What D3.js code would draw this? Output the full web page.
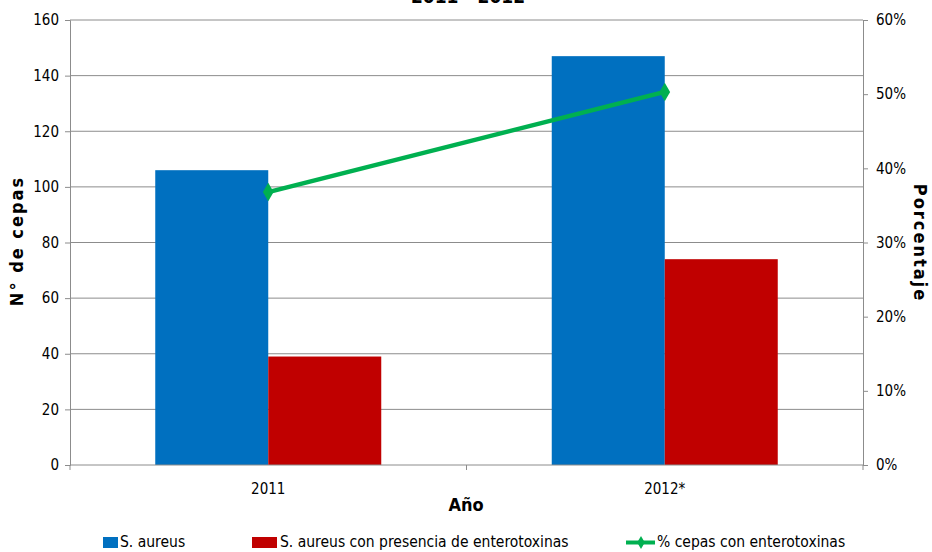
<!DOCTYPE html>
<html>
<head>
<meta charset="utf-8">
<script src="https://cdn.jsdelivr.net/npm/d3@7/dist/d3.min.js"></script>
<style>
body{margin:0;background:#fff;}
svg{display:block;}
text{font-family:Tahoma,"DejaVu Sans Condensed","DejaVu Sans",sans-serif;}
</style>
</head>
<body>
<svg id="c" width="932" height="552"></svg>
<script>
const years = ["2011", "2012*"];
const aureus = [106, 147];
const enterotox = [39, 74];
const pctCepas = [0.368, 0.503];
const leftTicks = [0, 20, 40, 60, 80, 100, 120, 140, 160];
const rightTicks = [0, 0.1, 0.2, 0.3, 0.4, 0.5, 0.6];
const seriesNames = ["S. aureus", "S. aureus con presencia de enterotoxinas", "% cepas con enterotoxinas"];
const colors = ["#0070C0", "#C00000", "#00B050"];

const svg = d3.select("#c");
const L = 70, R = 863, T = 20, B = 465;

const x = d3.scaleBand().domain(years).range([L, R]).paddingInner(0).paddingOuter(0);
const y = d3.scaleLinear().domain([0, 160]).range([B, T]);
const y2 = d3.scaleLinear().domain([0, 0.6]).range([B, T]);
const bw = 113;

// title (cut off at top edge, as in the reference)
svg.append("text").attr("x", 468).attr("y", 3).attr("text-anchor", "middle")
  .attr("font-size", 19).attr("font-weight", "bold").attr("font-family", "'DejaVu Serif',serif")
  .text("2011 - 2012");

// gridlines
svg.append("g").selectAll("line").data(leftTicks.filter(d => d > 0)).join("line")
  .attr("x1", L).attr("x2", R).attr("y1", d => y(d)).attr("y2", d => y(d))
  .attr("stroke", "#8c8c8c").attr("stroke-width", 1);

// bars
const g = svg.append("g");
years.forEach((yr, i) => {
  const cx = x(yr) + x.bandwidth() / 2;
  g.append("rect").attr("x", cx - bw).attr("width", bw)
    .attr("y", y(aureus[i])).attr("height", B - y(aureus[i])).attr("fill", colors[0]);
  g.append("rect").attr("x", cx).attr("width", bw)
    .attr("y", y(enterotox[i])).attr("height", B - y(enterotox[i])).attr("fill", colors[1]);
});

// axes
const axL = svg.append("g").attr("transform", `translate(${L},0)`)
  .call(d3.axisLeft(y).tickValues(leftTicks).tickSize(5).tickPadding(6));
const axR = svg.append("g").attr("transform", `translate(${R},0)`)
  .call(d3.axisRight(y2).tickValues(rightTicks).tickSize(5).tickPadding(8).tickFormat(d3.format(".0%")));
const axB = svg.append("g").attr("transform", `translate(0,${B})`)
  .call(d3.axisBottom(x).tickSize(0).tickPadding(18));
axB.select(".domain").remove();
svg.append("line").attr("x1", L).attr("x2", R).attr("y1", B).attr("y2", B).attr("stroke", "#8c8c8c");
svg.append("g").selectAll("line").data([L, (L + R) / 2, R]).join("line")
  .attr("x1", d => d).attr("x2", d => d).attr("y1", B).attr("y2", B + 5).attr("stroke", "#8c8c8c");

[axL, axR, axB].forEach(a => {
  a.selectAll(".domain").attr("stroke", "#8c8c8c");
  a.selectAll(".tick line").attr("stroke", "#8c8c8c");
  a.selectAll("text").attr("font-size", 15).attr("fill", "#000")
    .attr("font-family", 'Tahoma,"DejaVu Sans Condensed","DejaVu Sans",sans-serif');
});
axB.selectAll(".tick").attr("transform", d => `translate(${x(d) + x.bandwidth() / 2},0)`);

// line series
const pts = years.map((yr, i) => [x(yr) + x.bandwidth() / 2, y2(pctCepas[i])]);
svg.append("path").attr("d", d3.line()(pts)).attr("fill", "none")
  .attr("stroke", colors[2]).attr("stroke-width", 4.5);
svg.append("g").selectAll("path").data(pts).join("path")
  .attr("transform", d => `translate(${d[0]},${d[1]})`)
  .attr("d", d3.symbol(d3.symbolDiamond, 100)).attr("fill", colors[2]);

// axis titles
svg.append("text").attr("transform", "translate(23,241) rotate(-90)").attr("text-anchor", "middle")
  .attr("font-size", 18).attr("font-weight", "bold").attr("letter-spacing", 2).text("N° de cepas");
svg.append("text").attr("transform", "translate(914,243) rotate(90)").attr("text-anchor", "middle")
  .attr("font-size", 18).attr("font-weight", "bold").attr("letter-spacing", 2).text("Porcentaje");
svg.append("text").attr("x", 466).attr("y", 511).attr("text-anchor", "middle")
  .attr("font-size", 18).attr("font-weight", "bold").text("Año");

// legend
const leg = svg.append("g");
const ly = 547;
leg.append("rect").attr("x", 103).attr("y", ly - 10).attr("width", 15).attr("height", 11).attr("fill", colors[0]);
leg.append("text").attr("x", 120).attr("y", ly).attr("font-size", 15.5).text(seriesNames[0]);
leg.append("rect").attr("x", 252).attr("y", ly - 10).attr("width", 25).attr("height", 11).attr("fill", colors[1]);
leg.append("text").attr("x", 280).attr("y", ly).attr("font-size", 15.5).text(seriesNames[1]);
leg.append("line").attr("x1", 626).attr("x2", 655).attr("y1", ly - 4.5).attr("y2", ly - 4.5).attr("stroke", colors[2]).attr("stroke-width", 4);
leg.append("path").attr("transform", `translate(641,${ly - 4.5})`).attr("d", d3.symbol(d3.symbolDiamond, 50)).attr("fill", colors[2]);
leg.append("text").attr("x", 657).attr("y", ly).attr("font-size", 15.5).text(seriesNames[2]);
</script>
</body>
</html>
